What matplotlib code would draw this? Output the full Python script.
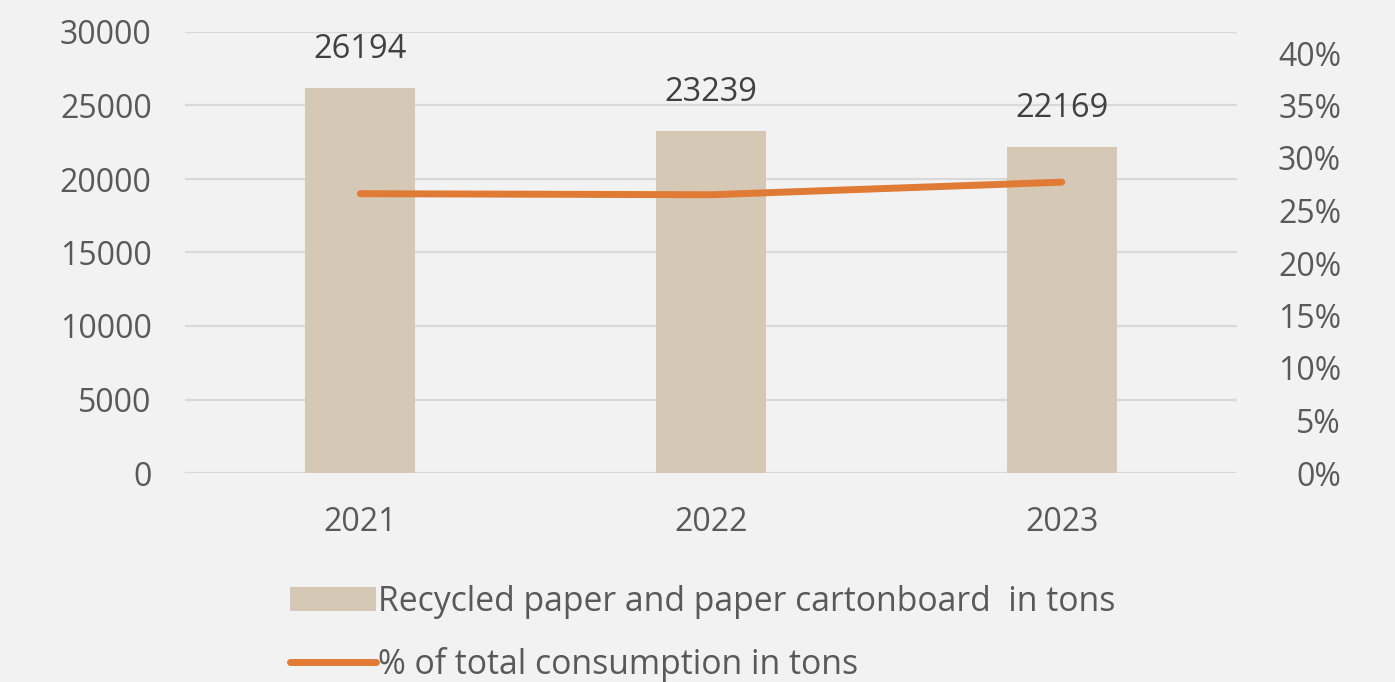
import matplotlib
matplotlib.use("Agg")
import matplotlib.pyplot as plt
from matplotlib.ticker import FuncFormatter, FixedLocator

years = ["2021", "2022", "2023"]
tons = [26194, 23239, 22169]
share = [0.266, 0.265, 0.277]
left_ticks = [0, 5000, 10000, 15000, 20000, 25000, 30000]
right_ticks = [0, 0.05, 0.10, 0.15, 0.20, 0.25, 0.30, 0.35, 0.40]

bar_label = "Recycled paper and paper cartonboard  in tons"
line_label = "% of total consumption in tons"

BG = "#f2f2f2"
BAR = "#d5c8b4"
LINE = "#e07b35"
GRID = "#d9d9d9"
TXT = "#595959"
FONT = "Open Sans"
FS = 23

plt.rcParams["font.family"] = [FONT, "DejaVu Sans"]

fig = plt.figure(figsize=(13.95, 6.82), dpi=100, facecolor=BG)
ax = fig.add_axes([185/1395, 1-473/682, (1237-185)/1395, (473-32)/682])
ax.set_facecolor(BG)
x = list(range(len(years)))
bars = ax.bar(x, tons, width=0.314, color=BAR, zorder=2, label=bar_label)
ax.set_xlim(-0.5, 2.5)
ax.set_ylim(0, 30000)
ax.yaxis.set_major_locator(FixedLocator(left_ticks))
ax.yaxis.set_major_formatter(FuncFormatter(lambda v, p: f"{int(v)}"))
ax.grid(axis="y", color=GRID, linewidth=1.6, zorder=0)
ax.set_axisbelow(True)
for s in ax.spines.values():
    s.set_visible(False)
ax.set_xticks(x)
ax.set_xticklabels(years)
ax.tick_params(axis="both", length=0, labelsize=FS, labelcolor=TXT)
ax.tick_params(axis="y", pad=24)
ax.tick_params(axis="x", pad=24)

for xi, v in zip(x, tons):
    ax.annotate(f"{v}", (xi, v), xytext=(0, 16), textcoords="offset points",
                ha="center", va="bottom", fontsize=FS + 0.5, color="#404040")

ax2 = ax.twinx()
ax2.set_ylim(0, 0.42)
line, = ax2.plot(x, share, color=LINE, linewidth=5, solid_capstyle="round",
                 zorder=3, label=line_label)
ax2.yaxis.set_major_locator(FixedLocator(right_ticks))
ax2.yaxis.set_major_formatter(FuncFormatter(lambda v, p: f"{round(v*100)}%"))
ax2.tick_params(axis="y", length=0, labelsize=FS, labelcolor=TXT, pad=75)
for lbl in ax2.get_yticklabels():
    lbl.set_ha("right")
for s in ax2.spines.values():
    s.set_visible(False)

leg = fig.legend([bars, line], [bar_label, line_label], loc="upper left",
                 bbox_to_anchor=(273/1395, 1-568/682), frameon=False,
                 fontsize=24.3, labelcolor=TXT, handlelength=2.55,
                 handletextpad=0.06, labelspacing=0.82, borderpad=0)

fig.savefig("out.png", dpi=100, facecolor=BG)
